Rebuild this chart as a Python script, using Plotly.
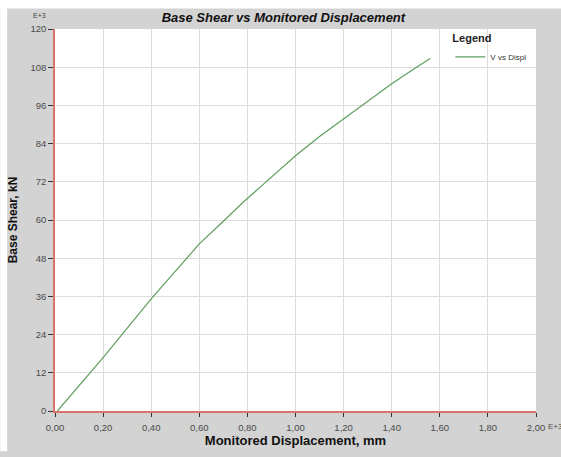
import plotly.graph_objects as go

# Data (displacement in E+3 mm, base shear in E+3 kN)
displ = [0.01, 0.20, 0.40, 0.60, 0.70, 0.78, 0.86, 0.93, 1.00, 1.10, 1.20, 1.30, 1.40, 1.50, 1.56]
shear = [0.0, 16.8, 35.2, 52.5, 59.6, 65.4, 70.8, 75.6, 80.2, 86.2, 91.8, 97.4, 102.8, 107.8, 110.7]

x_ticks = [0.0, 0.2, 0.4, 0.6, 0.8, 1.0, 1.2, 1.4, 1.6, 1.8, 2.0]
x_tick_labels = ["0,00", "0,20", "0,40", "0,60", "0,80", "1,00", "1,20", "1,40", "1,60", "1,80", "2,00"]
y_ticks = [0, 12, 24, 36, 48, 60, 72, 84, 96, 108, 120]
y_tick_labels = [str(v) for v in y_ticks]

W, H = 561, 457
L, R, T, B = 53, 25, 29, 39
pw, ph = W - L - R, H - T - B

def px_x(p):
    return (p - L) / pw

def px_y(p):
    return (H - B - p) / ph

fig = go.Figure()
fig.add_trace(go.Scatter(
    x=displ, y=shear, mode="lines", name="V vs Displ",
    line=dict(color="#5e9e5e", width=1.2),
))

tick_font = dict(family="Liberation Sans, Arial", size=9.5, color="#4a4a4a")
fig.update_layout(
    width=W, height=H,
    margin=dict(l=L, r=R, t=T, b=B),
    paper_bgcolor="#d3d3d3",
    plot_bgcolor="white",
    font=dict(family="Liberation Sans, Arial"),
    title=dict(
        text="<b><i>Base Shear vs Monitored Displacement</i></b>",
        x=px_x(297), xanchor="center", y=1 - 17 / H, yanchor="middle",
        font=dict(size=13, color="#111"),
    ),
    showlegend=True,
    legend=dict(
        title=dict(text="<b>Legend</b>", font=dict(size=11, color="#222")),
        x=px_x(450), xanchor="left", y=px_y(28), yanchor="top",
        bgcolor="rgba(0,0,0,0)", borderwidth=0,
        font=dict(size=8, color="#333333"),
    ),
    xaxis=dict(
        range=[0, 2], tickvals=x_ticks, ticktext=x_tick_labels,
        showgrid=True, gridcolor="#dddddd", gridwidth=1,
        showline=True, linecolor="#d9736b", linewidth=2,
        ticks="outside", ticklen=4, tickcolor="#333",
        tickfont=tick_font, zeroline=False, ticklabelstandoff=3,
        title=dict(text="<b>Monitored Displacement, mm</b>",
                   font=dict(size=13, color="#111"), standoff=2),
    ),
    yaxis=dict(
        range=[0, 120], tickvals=y_ticks, ticktext=y_tick_labels,
        showgrid=True, gridcolor="#dddddd", gridwidth=1,
        showline=True, linecolor="#d9736b", linewidth=1.5,
        ticks="outside", ticklen=5, tickcolor="#333",
        tickfont=tick_font, zeroline=False,
        title=dict(text="<b>Base Shear, kN</b>",
                   font=dict(size=12, color="#111"), standoff=10),
    ),
    shapes=[
        dict(type="rect", xref="paper", yref="paper",
             x0=px_x(-2), x1=px_x(W + 2), y0=px_y(8), y1=px_y(-2),
             fillcolor="white", line=dict(width=0), layer="below"),
        dict(type="rect", xref="paper", yref="paper",
             x0=px_x(-2), x1=px_x(5), y0=px_y(H + 2), y1=px_y(-2),
             fillcolor="white", line=dict(width=0), layer="below"),
    ],
    annotations=[
        dict(text="E+3", xref="paper", yref="paper", x=px_x(37), y=px_y(15),
             showarrow=False, font=dict(size=7, color="#444"), xanchor="center", yanchor="middle"),
        dict(text="E+3", xref="paper", yref="paper", x=px_x(547), y=px_y(434),
             showarrow=False, font=dict(size=8, color="#4a4a4a"), xanchor="left", yanchor="middle",
             borderpad=0),
    ],
)

fig.write_html("out.html")
